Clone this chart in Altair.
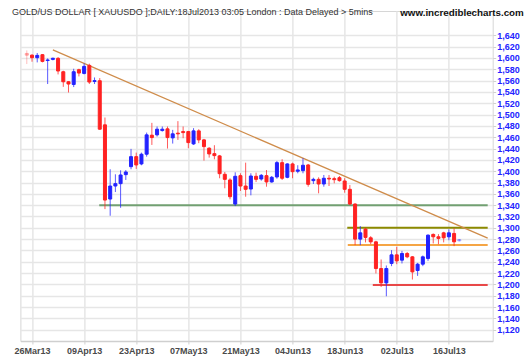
import json
import altair as alt
import pandas as pd

# trading days (all weekdays) 25 Mar 2013 .. 18 Jul 2013
dates = [d.strftime("%d%b%y") for d in pd.bdate_range("2013-03-25", "2013-07-18")]

opens = [1608, 1605, 1600.5, 1605.8, 1595.5, 1597.5, 1599.3, 1575.7, 1558, 1553.2,
         1579.3, 1572.7, 1586.9, 1558.5, 1559.8, 1481.9, 1350.8, 1373.8, 1378, 1393.9,
         1408, 1425.7, 1412.8, 1430, 1463.6, 1464.2, 1471.8, 1474.8, 1458.9, 1467.2,
         1470, 1470, 1448.2, 1471.2, 1455.3, 1440.6, 1431, 1427, 1394.5, 1384.5,
         1342, 1392.1, 1373.8, 1368.5, 1391, 1386.2, 1392.1, 1381, 1389.8, 1415.1,
         1389.2, 1412.8, 1399.9, 1401, 1411, 1383.3, 1385.6, 1377.4, 1387.5, 1386.8,
         1388.5, 1382.7, 1368, 1342, 1280, 1297.7, 1282.3, 1275.2, 1228, 1202.6,
         1237, 1252.2, 1242.8, 1254.6, 1248.7, 1224.5, 1235.7, 1245.8, 1288.3, 1284.1,
         1291.1, 1284.1, 1290, 1277]
highs = [1613.4, 1606.4, 1608.8, 1607, 1599.3, 1600.5, 1601.7, 1577.5, 1559.2, 1581,
         1581, 1590.4, 1589.9, 1565.6, 1564.5, 1494.8, 1403.4, 1394.5, 1401.6, 1402,
         1439.4, 1432.8, 1432.8, 1468.2, 1485.4, 1479, 1479, 1479, 1473, 1488.4,
         1479, 1471.2, 1476, 1474.2, 1457, 1442.4, 1445.9, 1428.7, 1398.6, 1387.5,
         1398, 1396.3, 1415.1, 1396.3, 1397.4, 1395, 1402, 1391.5, 1418.1, 1421.1,
         1414, 1415.1, 1410.5, 1422.9, 1412.8, 1388.5, 1389.2, 1393.3, 1393.3, 1390.3,
         1391.5, 1387.5, 1375.6, 1343.2, 1303, 1300, 1285.3, 1277, 1244, 1233.4,
         1260.5, 1266.3, 1259.2, 1257.3, 1250, 1238, 1251, 1288.3, 1290, 1288.8,
         1292.9, 1297.2, 1299, 1280]
lows = [1589.3, 1593.4, 1592.2, 1592.2, 1554, 1595.8, 1571, 1549, 1539, 1548.6,
        1567.4, 1571, 1554, 1554, 1473, 1333, 1321.3, 1363.2, 1335.4, 1384.5,
        1403.4, 1404, 1410.5, 1425.7, 1446.4, 1461.2, 1470, 1440, 1448.8, 1455.3,
        1458.3, 1440.6, 1446.4, 1449.5, 1418.7, 1424, 1421, 1387.5, 1369.8, 1350.3,
        1338.4, 1365, 1354.9, 1357.4, 1381, 1383.3, 1372.6, 1379.7, 1386.8, 1384.5,
        1387.5, 1387.5, 1396.3, 1396.3, 1372.6, 1377.4, 1360.9, 1372.6, 1373.8, 1378.6,
        1381.5, 1362, 1340.2, 1269.4, 1269.4, 1274.2, 1271, 1219.3, 1195.5, 1179,
        1232.2, 1235.7, 1237, 1246.3, 1208.6, 1215, 1232.2, 1241.6, 1272.4, 1271,
        1274.2, 1278, 1267.6, 1276]
closes = [1605, 1600.5, 1604.6, 1594, 1596.5, 1599.5, 1577, 1558, 1554, 1575.7,
          1573.4, 1585.1, 1557.5, 1560, 1474.2, 1349, 1373.8, 1378, 1393.3, 1398.6,
          1425.7, 1411, 1430, 1464.2, 1459.4, 1474.2, 1474.2, 1459.4, 1466, 1466,
          1468.2, 1450.5, 1471.2, 1455.3, 1443.4, 1430.5, 1427.5, 1395.6, 1385.6, 1354.9,
          1391, 1373.8, 1368, 1391.5, 1385.6, 1392.7, 1381, 1389.2, 1415.1, 1387.5,
          1412.8, 1399.2, 1402.2, 1410.5, 1376.8, 1385.6, 1377.4, 1387.5, 1386.2, 1385,
          1383.3, 1368, 1342, 1280, 1291.1, 1283, 1275.2, 1228, 1202.6, 1228,
          1252.2, 1241.6, 1254.6, 1248.7, 1222.1, 1235.7, 1248.7, 1287, 1284.1, 1281.2,
          1282.3, 1291.1, 1275.2, 1279]

# horizontal support / resistance levels (start day index, price)
level_names = ["support 1340", "resist 1300", "support 1270", "support 1200"]
level_prices = [1340, 1300, 1269.5, 1199]
level_starts = [13.9, 61.5, 61.6, 66.4]
level_colors = ["#72a072", "#8c8a00", "#f5a545", "#e84848"]

# descending trend line (day index, price)
trend_days = [5, 88.45]
trend_prices = [1614.3, 1281.7]

x_label_days = [1, 11, 21, 31, 41, 51, 61, 71, 81]
y_ticks = list(range(1120, 1641, 20))

X_MAX = 88.45
df = pd.DataFrame({"i": list(range(len(dates))), "date": dates, "open": opens,
                   "high": highs, "low": lows, "close": closes})
lv = pd.DataFrame({"name": level_names, "price": level_prices,
                   "start": level_starts, "end": [X_MAX] * len(level_names)})
tr = pd.DataFrame({"d1": [trend_days[0]], "d2": [trend_days[1]],
                   "p1": [trend_prices[0]], "p2": [trend_prices[1]]})

FONT = "Liberation Sans"
xscale = alt.Scale(domain=[-0.27, X_MAX], nice=False, zero=False)
yscale = alt.Scale(domain=[1100, 1683], nice=False, zero=False)
xaxis = alt.Axis(values=x_label_days, labelExpr=json.dumps(dates) + "[datum.value]",
                 title=None, grid=True, gridColor="#e6e6e6", gridWidth=1.5,
                 labelFont=FONT, labelFontSize=9, labelFontWeight="bold",
                 labelColor="#4a4a4a", labelPadding=3, tickSize=3, tickColor="#d0d0d0",
                 domainColor="#cfcfcf", domainWidth=1.5)
yaxis = alt.Axis(values=y_ticks, format=",d", orient="right", title=None, grid=True,
                 gridColor="#e6e6e6", gridWidth=1.5, labelFont=FONT, labelFontSize=9,
                 labelFontWeight="bold", labelColor="#2323ff", labelPadding=1,
                 tickSize=3, tickColor="#d0d0d0", domain=False)

up = "datum.close >= datum.open"
col = alt.condition(up, alt.value("#2222ff"), alt.value("#ff2222"))
op = alt.condition("datum.i == 0 || datum.i == 83", alt.value(0.4), alt.value(1))

levels = alt.Chart(lv).mark_rule(strokeWidth=2).encode(
    x=alt.X("start:Q", scale=xscale, axis=xaxis),
    x2="end:Q",
    y=alt.Y("price:Q", scale=yscale, axis=yaxis),
    color=alt.Color("name:N", scale=alt.Scale(domain=level_names, range=level_colors), legend=None),
)
trend = alt.Chart(tr).mark_rule(strokeWidth=1.3, color="#cf8c4a").encode(
    x=alt.X("d1:Q", scale=xscale, axis=xaxis), x2="d2:Q",
    y=alt.Y("p1:Q", scale=yscale, axis=yaxis), y2="p2:Q",
)
wicks = alt.Chart(df).mark_rule(strokeWidth=1, strokeOpacity=0.75).encode(
    x=alt.X("i:Q", scale=xscale, axis=xaxis),
    y=alt.Y("low:Q", scale=yscale, axis=yaxis), y2="high:Q",
    color=col, opacity=op,
)
bodies = alt.Chart(df).mark_bar(size=3, strokeWidth=1).encode(
    x=alt.X("i:Q", scale=xscale, axis=xaxis),
    y=alt.Y("open:Q", scale=yscale, axis=yaxis), y2="close:Q",
    fill=col, stroke=col, opacity=op,
)

title_txt = "GOLD/US DOLLAR [ XAUUSDO ];DAILY:18Jul2013 03:05 London : Data Delayed > 5mins"
site_txt = "www.incrediblecharts.com"
title = alt.Chart(pd.DataFrame({"t": [title_txt]})).mark_text(
    align="left", baseline="top", font=FONT, fontSize=9, color="#333333"
).encode(x=alt.value(-8.4), y=alt.value(-3), text="t:N")
site = alt.Chart(pd.DataFrame({"t": [site_txt]})).mark_text(
    align="right", baseline="top", font=FONT, fontSize=9.8, fontWeight="bold", color="#111111"
).encode(x=alt.value(503.4), y=alt.value(-3), text="t:N")

chart = alt.layer(levels, trend, wicks, bodies, title, site).properties(
    width=472.3, height=330,
    padding={"left": 12.4, "top": 3, "right": 31.2, "bottom": 17},
    autosize=alt.AutoSizeParams(type="none"),
    background="white",
).configure_view(stroke="#d6d6d6", strokeWidth=1)

chart.save("out.html", embed_options={"renderer": "svg", "actions": False})
